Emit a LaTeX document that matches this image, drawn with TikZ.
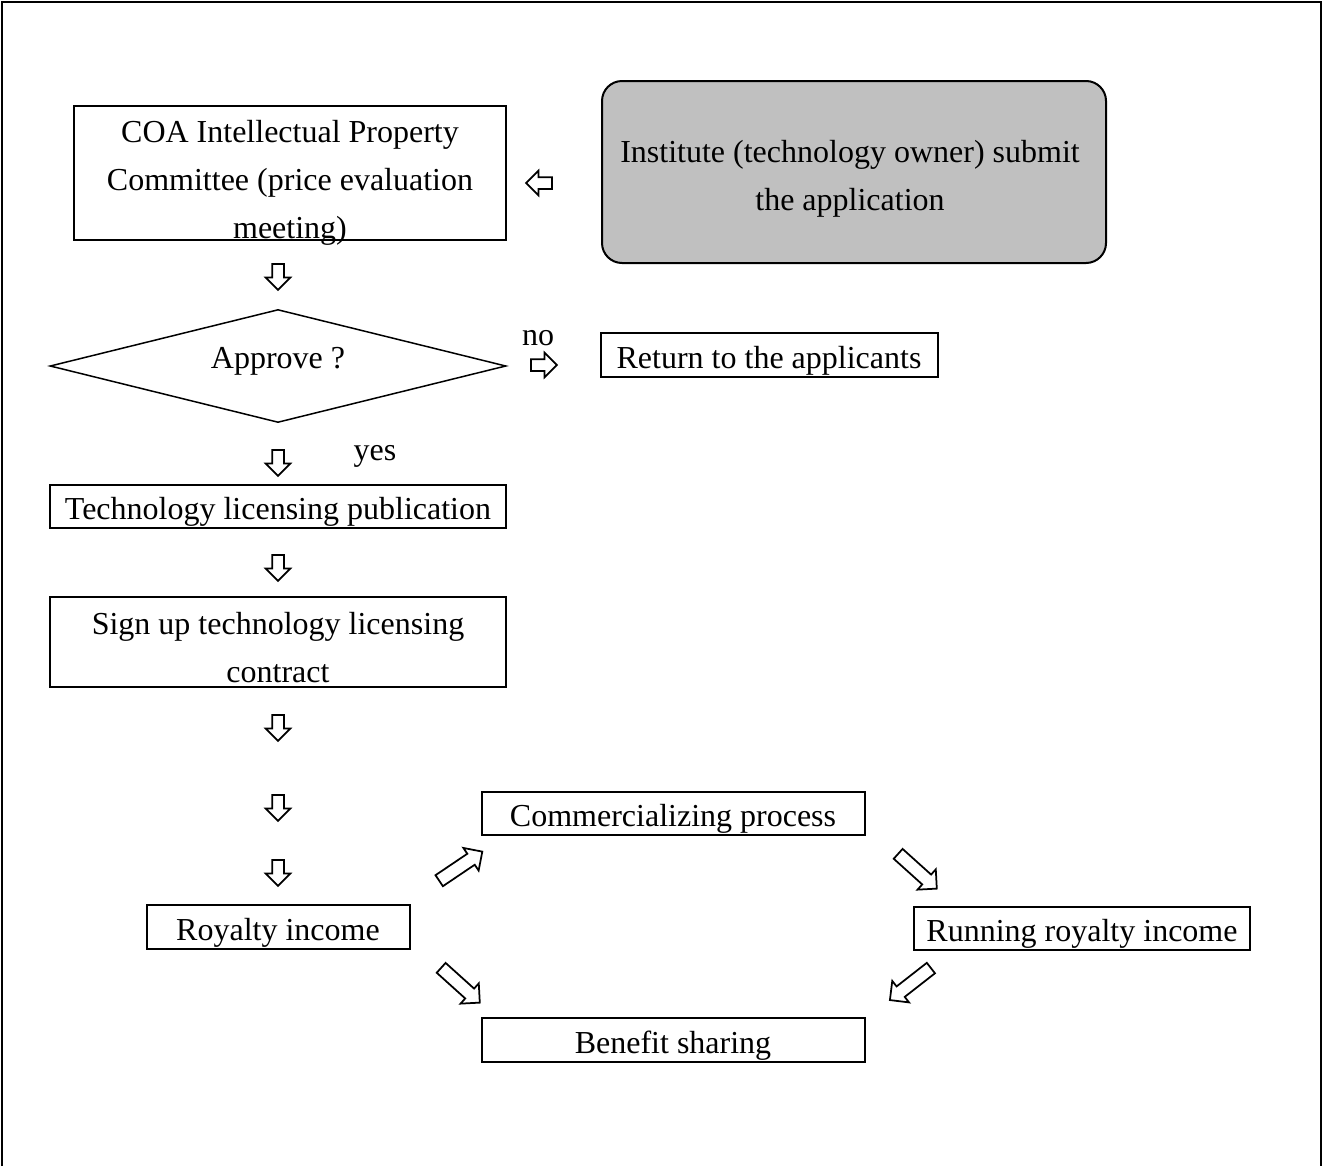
\documentclass[tikz,border=0pt]{standalone}
\usepackage{fontspec}
\setmainfont{Liberation Serif}
\usepackage{xcolor}
\usetikzlibrary{shapes,arrows,positioning}
\definecolor{boxgray}{HTML}{C0C0C0}
\newcommand\pxu{0.4pt}

\begin{document}
\begin{tikzpicture}[x=0.4pt,y=-0.4pt]
        % Define styles
        \tikzstyle{boxtext} = [align=center, inner sep=0pt, yshift=-2.4pt, font=\fontsize{12.8}{19.2}\selectfont]
        \tikzstyle{box} = [rectangle, draw, line width=0.8pt, inner sep=0pt]
        \tikzstyle{submitbox} = [rectangle, rounded corners=8pt, draw, line width=0.8pt, fill=boxgray]
        \tikzstyle{decide} = [diamond, draw, line width=0.6pt, aspect=4, inner sep=0pt]
        \tikzstyle{plaintext} = [font=\fontsize{12.8}{19.2}\selectfont, inner sep=0pt, align=center]
        \tikzstyle{hollow} = [single arrow, draw, line width=0.7pt, fill=white, inner sep=2pt, minimum height=26*\pxu, single arrow head extend=2.6pt, single arrow head indent=0pt]
        \tikzstyle{bighollow} = [hollow, inner sep=2.3pt, minimum height=52*\pxu, single arrow head extend=2.8pt]

        \useasboundingbox (0,0) rectangle (1323,1166);
        % Frame
        \draw[line width=1pt] (2,1166) -- (2,2) -- (1321,2) -- (1321,1166);

        % Application
        \node (coa) [box, minimum width=432*\pxu, minimum height=134*\pxu] at (290,173) {};
        \node (coatext) [plaintext] at (290,183) {COA Intellectual Property\\Committee (price evaluation\\meeting)};
        \node (submit) [submitbox, minimum width=504*\pxu, minimum height=182*\pxu,
              label={[boxtext, xshift=-1.6pt, yshift=-0.4pt]center:{Institute (technology owner) submit\\the application}}] at (854,172) {};
        \node (toleft) [hollow, shape border rotate=180] at (542,183) {};

        % Decision
        \node (down1) [hollow, shape border rotate=270] at (278,274) {};
        \node (approve) [decide, minimum width=456*\pxu, minimum height=113*\pxu] at (278,366) {};
        \node (approvetext) [plaintext] at (278,361) {Approve ?};
        \node (no) [plaintext] at (538,338) {no};
        \node (toright) [hollow] at (541,365) {};
        \node (back) [box, minimum width=337*\pxu, minimum height=44*\pxu,
              label={[boxtext]center:Return to the applicants}] at (769,355) {};
        \node (down2) [hollow, shape border rotate=270] at (278,460) {};
        \node (yes) [plaintext] at (375,456) {yes};

        % Licensing
        \node (publish) [box, minimum width=456*\pxu, minimum height=43*\pxu,
              label={[boxtext]center:Technology licensing publication}] at (278,506) {};
        \node (down3) [hollow, shape border rotate=270] at (278,565) {};
        \node (contract) [box, minimum width=456*\pxu, minimum height=90*\pxu,
              label={[boxtext]center:{Sign up technology licensing\\contract}}] at (278,642) {};
        \node (down4) [hollow, shape border rotate=270] at (278,725) {};
        \node (down5) [hollow, shape border rotate=270] at (278,805) {};
        \node (down6) [hollow, shape border rotate=270] at (278,870) {};

        % Income
        \node (royalty) [box, minimum width=263*\pxu, minimum height=44*\pxu,
              label={[boxtext]center:Royalty income}] at (278,927) {};
        \node (commerce) [box, minimum width=383*\pxu, minimum height=43*\pxu,
              label={[boxtext]center:Commercializing process}] at (673,813) {};
        \node (running) [box, minimum width=336*\pxu, minimum height=43*\pxu,
              label={[boxtext]center:Running royalty income}] at (1082,928) {};
        \node (benefit) [box, minimum width=383*\pxu, minimum height=44*\pxu,
              label={[boxtext]center:Benefit sharing}] at (673,1040) {};
        \node (ne) [bighollow, rotate=34] at (458,868) {};
        \node (se1) [bighollow, rotate=-42] at (915,869) {};
        \node (se2) [bighollow, rotate=-42] at (458,983) {};
        \node (sw) [bighollow, rotate=218] at (913,982) {};

    \end{tikzpicture}
\end{document}
